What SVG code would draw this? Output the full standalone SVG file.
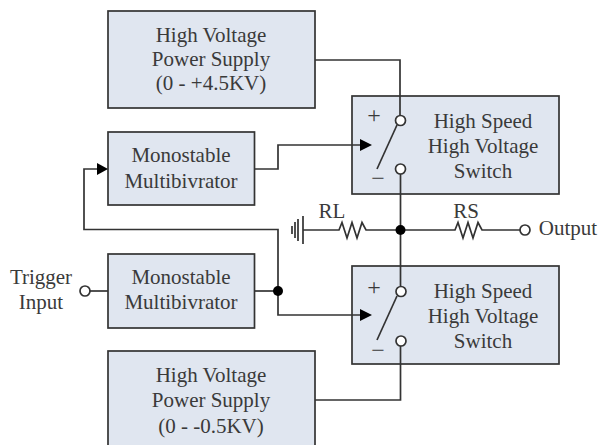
<svg xmlns="http://www.w3.org/2000/svg" width="598" height="445" viewBox="0 0 598 445">
<style>
text{font-family:"Liberation Serif","Times New Roman",serif;font-size:21px;fill:#3a3a3a;text-anchor:middle}
.pm{font-size:24px}
.b{fill:#e0e6f0;stroke:#333;stroke-width:1.7}
.w{fill:none;stroke:#333;stroke-width:1.7}
.o{fill:#fff;stroke:#333;stroke-width:1.7}
.d{fill:#000}
.a{fill:#000}
</style>
<rect width="598" height="445" fill="#fff"/>
<g id="hv-plus"><rect class="b" x="108" y="11" width="207" height="97"/><text x="211" y="42">High Voltage</text><text x="211" y="66">Power Supply</text><text x="211" y="90">(0 - +4.5KV)</text></g>
<g id="mono-top"><rect class="b" x="108" y="132" width="146.500" height="73"/><text x="181" y="162">Monostable</text><text x="181" y="188">Multibivrator</text></g>
<g id="mono-bottom"><rect class="b" x="108" y="254" width="146.500" height="74"/><text x="181" y="284">Monostable</text><text x="181" y="309">Multibivrator</text></g>
<g id="hv-minus"><rect class="b" x="108" y="351" width="207" height="100"/><text x="211" y="382">High Voltage</text><text x="211" y="407">Power Supply</text><text x="211" y="433">(0 - -0.5KV)</text></g>
<g id="switch-top"><rect class="b" x="352" y="96" width="207" height="98"/><text x="483" y="128">High Speed</text><text x="483" y="153">High Voltage</text><text x="483" y="178">Switch</text></g>
<g id="switch-bottom"><rect class="b" x="352" y="266" width="207" height="98"/><text x="483" y="298">High Speed</text><text x="483" y="323">High Voltage</text><text x="483" y="348">Switch</text></g>
<g id="connectors">
<path class="w" d="M315 60H400V115"/>
<path class="w" d="M254.500 169H278V145H362"/>
<path class="a" d="M360 139L372 145L360 151Z"/>
<path class="w" d="M400.500 174V286"/>
<path class="w" d="M400.500 346V400H315"/>
<path class="w" d="M397 125L377 169"/>
<path class="w" d="M397 296L377 340"/>
<path class="w" d="M98 169H84V229.500H278V315H362"/>
<path class="a" d="M97 163L108 169L97 175Z"/>
<path class="a" d="M360 309L372 315L360 321Z"/>
<path class="w" d="M90 291H108"/>
<path class="w" d="M254.500 291H278"/>
<path class="w" d="M303 230H339L342 222.500L347 238L352 222.500L357 238L362 222.500L366 230H400"/>
<path class="w" d="M400 230H455L458 222.500L463 238L468 222.500L473 238L478 222.500L482 230H520"/>
<path class="w" d="M303 216V244M298 219V241M295 222V238M292 226V234"/>
</g>
<g id="junctions">
<circle class="d" cx="400.500" cy="230" r="5"/>
<circle class="d" cx="278" cy="291" r="5"/>
<circle class="o" cx="400.500" cy="120.500" r="5"/>
<circle class="o" cx="400.500" cy="169" r="5"/>
<circle class="o" cx="401" cy="291.500" r="5"/>
<circle class="o" cx="401" cy="341" r="5"/>
<circle class="o" cx="525" cy="230" r="5"/>
<circle class="o" cx="85" cy="291" r="5"/>
</g>
<g id="labels">
<text class="pm" x="374" y="123">+</text><text class="pm" x="378" y="186">−</text>
<text class="pm" x="374" y="295">+</text><text class="pm" x="378" y="358">−</text>
<text x="332" y="218">RL</text><text x="466" y="218">RS</text>
<text x="568" y="235">Output</text>
<text x="41" y="284">Trigger</text><text x="41" y="309">Input</text>
</g>
</svg>
